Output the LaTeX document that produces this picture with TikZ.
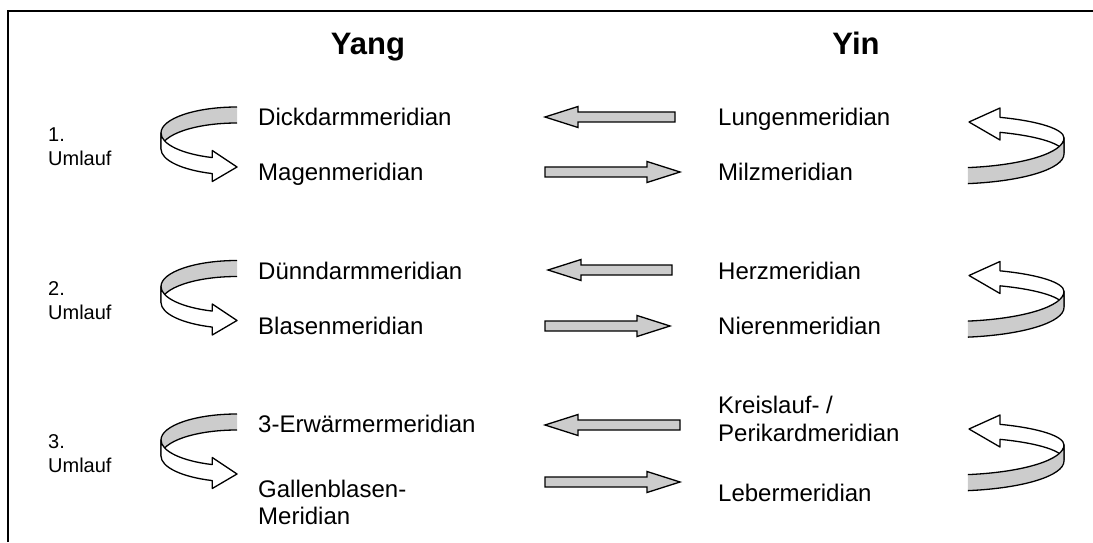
\documentclass[tikz,border=0pt]{standalone}
\usepackage{fontspec}
\setmainfont{Liberation Sans}
\begin{document}
\begin{tikzpicture}[x=1pt,y=1pt,
  body/.style={anchor=base west,inner sep=0pt,font=\fontsize{24}{28}\selectfont},
  lbl/.style={anchor=base west,inner sep=0pt,font=\fontsize{20}{24}\selectfont},
  ttl/.style={anchor=base,inner sep=0pt,font=\fontsize{31}{36}\selectfont\bfseries},
  outl/.style={draw=black,line width=1.3pt,line join=round},
  bandfill/.style={fill=black!20},
  barrow/.style={draw=black,line width=1.3pt,fill=black!20,line join=miter},
  frame/.style={draw=black,line width=1.8pt}]
\useasboundingbox (0,0) rectangle (1093,542);
% frame (left and top sides)
\draw[frame] (8,0) -- (8,531) -- (1093,531);
% titles
\node[ttl] (yang) at (368,487.5) {Yang};
\node[ttl] (yin) at (856,487.5) {Yin};
% curled arrows
\foreach \r in {0,1,2}{
\begin{scope}[yshift=-153.5*\r]
  % left-hand curl
  \fill[bandfill] (237,435) arc[start angle=90,end angle=180,x radius=76pt,y radius=26pt]
     -- (161,393) arc[start angle=180,end angle=90,x radius=76pt,y radius=26pt] -- cycle;
  \draw[outl] (237,435) arc[start angle=90,end angle=180,x radius=76pt,y radius=26pt]
     -- (161,393) arc[start angle=180,end angle=90,x radius=76pt,y radius=26pt];
  \draw[outl,fill=white] (161,409) arc[start angle=180,end angle=251,x radius=76pt,y radius=26pt]
     -- (212.26,391.5) -- (237,375) -- (212.26,360.5) -- (212.26,368.42)
     arc[start angle=251,end angle=180,x radius=76pt,y radius=26pt] -- cycle;
  % right-hand curl
  \draw[outl,fill=white] (1064,404) arc[start angle=0,end angle=63.98,x radius=114pt,y radius=23pt]
     -- (1000,434) -- (969,420) -- (1000,402) -- (1000,409.67)
     arc[start angle=63.98,end angle=0,x radius=114pt,y radius=23pt] -- cycle;
  \fill[bandfill] (1064,404) arc[start angle=0,end angle=-81,x radius=114pt,y radius=30pt]
     -- (967.8,358.4) arc[start angle=-81,end angle=0,x radius=114pt,y radius=30pt] -- cycle;
  \draw[outl] (967.8,374.4) arc[start angle=-81,end angle=0,x radius=114pt,y radius=30pt]
     -- (1064,388) arc[start angle=0,end angle=-81,x radius=114pt,y radius=30pt];
\end{scope}}
% straight block arrows: left-pointing (tip, tail, y) and right-pointing (tail, tip, y)
\newcommand\blockleft[3]{\draw[barrow] (#1,#3) -- (#1+33,#3+10.5) -- (#1+33,#3+5) -- (#2,#3+5)
   -- (#2,#3-5) -- (#1+33,#3-5) -- (#1+33,#3-10.5) -- cycle;}
\newcommand\blockright[3]{\draw[barrow] (#2,#3) -- (#2-33,#3+10.5) -- (#2-33,#3+5) -- (#1,#3+5)
   -- (#1,#3-5) -- (#2-33,#3-5) -- (#2-33,#3-10.5) -- cycle;}
\blockleft{545}{675}{425}
\blockright{545}{680}{370}
\blockleft{548}{672}{272}
\blockright{545}{670}{216}
\blockleft{545}{680}{117}
\blockright{545}{680}{60}
% round labels
\node[lbl] (n1) at (48,400) {1.};
\node[lbl] (u1) at (48,376) {Umlauf};
\node[lbl] (n2) at (48,247) {2.};
\node[lbl] (u2) at (48,223) {Umlauf};
\node[lbl] (n3) at (48,93.5) {3.};
\node[lbl] (u3) at (48,69.5) {Umlauf};
% Yang meridians
\node[body] (dick) at (258,416.5) {Dickdarmmeridian};
\node[body] (magen) at (258,361.5) {Magenmeridian};
\node[body] (duenn) at (258,263) {Dünndarmmeridian};
\node[body] (blase) at (258,208) {Blasenmeridian};
\node[body] (erw) at (258,110) {3-Erwärmermeridian};
\node[body] (galle) at (258,45) {Gallenblasen-};
\node[body] (galle2) at (258,17.5) {Meridian};
% Yin meridians
\node[body] (lunge) at (718,416.5) {Lungenmeridian};
\node[body] (milz) at (718,361.5) {Milzmeridian};
\node[body] (herz) at (718,263) {Herzmeridian};
\node[body] (niere) at (718,208) {Nierenmeridian};
\node[body] (kreis) at (718,128.5) {Kreislauf- /};
\node[body] (peri) at (718,101) {Perikardmeridian};
\node[body] (leber) at (718,40.5) {Lebermeridian};
\end{tikzpicture}
\end{document}
